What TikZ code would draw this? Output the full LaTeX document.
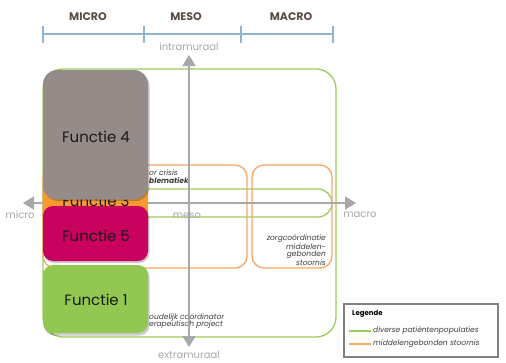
\documentclass[tikz,border=0pt]{standalone}
\usepackage{fontspec}
\setmainfont{Poppins}
\usetikzlibrary{arrows.meta}
\definecolor{hdr}{HTML}{5B4B43}
\definecolor{scaleblue}{HTML}{8FB3D3}
\definecolor{axisgray}{HTML}{A8A8A8}
\definecolor{lgreen}{HTML}{9DCB5C}
\definecolor{lorange}{HTML}{F9A765}
\definecolor{fgray}{HTML}{958B88}
\definecolor{fmag}{HTML}{C8005E}
\definecolor{fgreen}{HTML}{92C852}
\definecolor{forange}{HTML}{F79A30}
\definecolor{itxt}{HTML}{3E3E3E}
\begin{document}
\begin{tikzpicture}[x=1pt,y=-1pt,
  hdrtext/.style={font=\bfseries\fontsize{11}{12}\selectfont, text=hdr},
  axislabel/.style={font=\fontsize{10}{12}\selectfont, text=axisgray},
  axisarrow/.style={draw=axisgray, line width=2.2pt, -{Triangle[width=13pt,length=11pt]}},
  greenline/.style={draw=lgreen, line width=1.3pt},
  orangeline/.style={draw=lorange, line width=1.3pt},
  ftext/.style={font=\fontsize{15}{16}\selectfont, text=black!90},
  smallit/.style={font=\itshape\fontsize{7.5}{7}\selectfont, text=itxt, inner sep=0pt},
  legtext/.style={font=\itshape\fontsize{7.5}{9}\selectfont, text=itxt, inner sep=0pt, anchor=west}
]
\useasboundingbox (0,0) rectangle (506,362);
\fill[white] (0,0) rectangle (506,362);

% header
\node[hdrtext] (micro) at (88,17) {MICRO};
\node[hdrtext] (meso) at (186,17) {MESO};
\node[hdrtext] (macro) at (291,17) {MACRO};
\coordinate (s0) at (43,34);
\coordinate (s3) at (333,34);
\draw[scaleblue, line width=1.8pt] (s0) -- (s3);
\foreach \x in {43,144,241,333} \draw[scaleblue, line width=1.8pt] (\x,26) -- (\x,43);

% frames
\draw[greenline, rounded corners=20pt] (43,69) rectangle (336,337);
\draw[greenline, rounded corners=14pt] (43,189) rectangle (332,217);
\draw[orangeline, rounded corners=12pt] (43,165) rectangle (247,268);
\draw[orangeline, rounded corners=12pt] (252,165) rectangle (332,268);

% small texts
\node[smallit, anchor=west] (t1) at (149,173) {or crisis};
\node[smallit, anchor=west, font=\bfseries\itshape\fontsize{7.5}{7}\selectfont] (t2) at (149,181) {blematiek};
\node[smallit, anchor=west] (t3) at (149,318) {oudelijk coördinator};
\node[smallit, anchor=west] (t4) at (149,325) {erapeutisch project};
\node[smallit, anchor=east, align=right] (zc) at (326,250) {zorgcoördinatie\\middelen-\\gebonden\\stoornis};

% axes
\coordinate (vtop) at (189,55);
\coordinate (vbot) at (189,347);
\coordinate (hl) at (23,203);
\coordinate (hr) at (356,203);
\coordinate (vmid) at (189,203);
\draw[axisarrow] (vmid) -- (vtop);
\draw[axisarrow] (vmid) -- (vbot);
\draw[axisarrow] (vmid) -- (hl);
\draw[axisarrow] (vmid) -- (hr);
\node[axislabel] (intra) at (189,47) {intramuraal};
\node[axislabel] (extra) at (189,355) {extramuraal};
\node[axislabel] (lmicro) at (20,215) {micro};
\node[axislabel] (lmeso) at (187,216) {meso};
\node[axislabel] (lmacro) at (360,215) {macro};

% functie boxes
\fill[forange, rounded corners=10pt] (43,160) rectangle (148,228);
\node[ftext] (f3) at (96,201) {Functie 3};
\fill[black, opacity=0.2, rounded corners=14pt] (44,72) rectangle (149.5,201);
\fill[fgray, rounded corners=14pt] (43,70) rectangle (148,199.5);
\node[ftext] (f4) at (96,137) {Functie 4};
\fill[black, opacity=0.2, rounded corners=10pt] (44,208) rectangle (149.5,263);
\fill[fmag, rounded corners=10pt] (43,206) rectangle (148,261);
\node[ftext] (f5) at (96,236) {Functie 5};
\fill[black, opacity=0.2, rounded corners=10pt] (44,267) rectangle (149.5,335.5);
\fill[fgreen, rounded corners=10pt] (43,265) rectangle (148,333);
\node[ftext] (f1) at (96,300) {Functie 1};

% legend
\draw[draw=black!50, line width=1.5pt, fill=white] (344,304) rectangle (498,357);
\node[font=\bfseries\fontsize{7}{8}\selectfont, anchor=west, inner sep=0pt] (leg) at (352,314) {Legende};
\coordinate (lg1) at (349,331);
\coordinate (lg2) at (371,331);
\coordinate (lo1) at (349,344);
\coordinate (lo2) at (371,344);
\draw[greenline] (lg1) -- (lg2);
\draw[draw=lorange, line width=1.5pt] (lo1) -- (lo2);
\node[legtext] (lt1) at (373,331) {diverse patiëntenpopulaties};
\node[legtext] (lt2) at (373,344) {middelengebonden stoornis};
\end{tikzpicture}
\end{document}
